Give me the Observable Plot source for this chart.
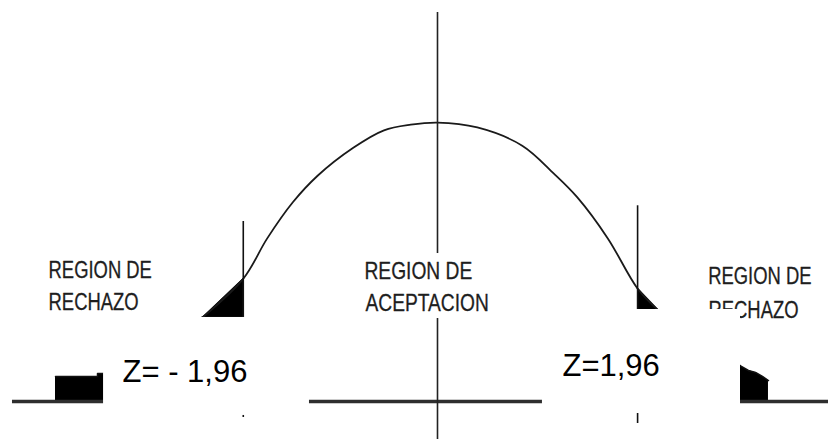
<!DOCTYPE html>
<html>
<head>
<meta charset="utf-8">
<script src="https://cdn.jsdelivr.net/npm/d3@7"></script>
<script src="https://cdn.jsdelivr.net/npm/@observablehq/plot@0.6"></script>
<style>
  html, body { margin: 0; padding: 0; background: #fff; }
  #chart svg { display: block; }
</style>
</head>
<body>
<div id="chart"></div>
<script>
// Curve (z units, density units)
const curveZ = [-3.855, -3.431, -3.431, -3.370, -2.361, -1.958, -1.72, -1.46, -1.21, -0.85, -0.54, -0.27, 0, 0.39, 0.83, 1.14, 1.37, 1.67, 1.959, 2.165, 2.977, 3.046, 3.115, 3.183, 3.242];
const curveD = [0.0358, 0.0358, 0.0401, 0.0401, 0.1216, 0.176, 0.233, 0.285, 0.323, 0.363, 0.388, 0.396, 0.399, 0.392, 0.366, 0.326, 0.292, 0.233, 0.1617, 0.130, 0.0501, 0.0443, 0.0415, 0.0358, 0.0300];

// Critical values and their marker lines
const critZ = [-1.96, 1.96];
const critTop = [0.2575, 0.280];
const critBottom = [-0.0229, -0.0315];

// Central axis line and baseline
const axisZ = [0];
const axisBottom = [-0.0544];
const axisTop = [0.5565];
const baseLeft = [-4.289];
const baseRight = [3.83];

// Region labels (left & centre anchored at their start, right column at its end)
const labelText = ["REGION DE", "RECHAZO", "REGION DE", "ACEPTACION", "REGION DE", "RECHAZO"];
const labelZ = [-3.925, -3.925, -0.737, -0.727, 3.663, 3.536];
const labelD = [0.1867, 0.1409, 0.1860, 0.1402, 0.1788, 0.1302];
const labelPlace = ["side", "side", "center", "center", "right", "right"];

// Critical value labels
const zText = ["Z= - 1,96", "Z=1,96"];
const zLabelZ = [-3.179, 1.224];
const zLabelD = [0.0415, 0.0501];

// Blank (white) patches in the picture
const centerBoxX = [-0.78, 0.57];
const centerBoxD = [0.1187, 0.2117];
const boxX1 = [-3.370, 1.028];
const boxX2 = [-1.292, 2.968];
const boxY1 = [-0.0200, -0.0172];
const boxY2 = [0.1202, 0.1316];

const curve = curveZ.map((z, i) => ({z, d: curveD[i]}));
const arc = curve.filter(p => p.z >= -2.4 && p.z <= 2.2);
const leftTail = curve.filter(p => p.z <= -1.95);
const rightTail = curve.filter(p => p.z >= 1.95);
const crit = critZ.map((z, i) => ({z, top: critTop[i], bottom: critBottom[i]}));
const labels = labelText.map((t, i) => ({t, z: labelZ[i], d: labelD[i], place: labelPlace[i]}));
const zLabels = zText.map((t, i) => ({t, z: zLabelZ[i], d: zLabelD[i]}));
const boxes = boxX1.map((x1, i) => ({x1, x2: boxX2[i], y1: boxY1[i], y2: boxY2[i]}));
const cbox = [{x1: centerBoxX[0], x2: centerBoxX[1], y1: centerBoxD[0], y2: centerBoxD[1]}];

const font = "Liberation Sans, Arial, sans-serif";
const narrowFont = "'Liberation Sans Narrow', 'Liberation Sans', Arial, sans-serif";
const labelStyle = {x: "z", y: "d", text: "t", fill: "#1e1e1e", stroke: "#1e1e1e", strokeWidth: 0.3, fontFamily: narrowFont};

const plot = Plot.plot({
  width: 828,
  height: 439,
  margin: 0,
  style: {background: "#fff"},
  x: {type: "linear", domain: [-4.41, 0, 3.83], range: [0, 437, 828], axis: null},
  y: {type: "linear", domain: [-0.0544, 0.5737], range: [439, 0], axis: null},
  marks: [
    Plot.areaY(leftTail, {x: "z", y1: 0, y2: "d", fill: "#000", curve: "linear"}),
    Plot.areaY(rightTail, {x: "z", y1: 0, y2: "d", fill: "#000", curve: "linear"}),
    Plot.line(leftTail, {x: "z", y: "d", stroke: "#111", strokeWidth: 1.5, curve: "linear"}),
    Plot.line(rightTail, {x: "z", y: "d", stroke: "#111", strokeWidth: 1.5, curve: "linear"}),
    Plot.line(arc, {x: "z", y: "d", stroke: "#1a1a1a", strokeWidth: 1.8, curve: "catmull-rom"}),
    Plot.ruleY([0], {x1: baseLeft[0], x2: baseRight[0], stroke: "#2e2e2e", strokeWidth: 3.5}),
    Plot.ruleX(axisZ, {x: d => d, y1: axisBottom[0], y2: axisTop[0], stroke: "#222", strokeWidth: 1.6}),
    Plot.ruleX(crit, {x: "z", y1: "bottom", y2: "top", stroke: "#111", strokeWidth: 1.6}),
    Plot.rect(cbox, {x1: "x1", x2: "x2", y1: "y1", y2: "y2", fill: "#fff"}),
    Plot.text(labels.filter(l => l.place === "side"), {...labelStyle, textAnchor: "start", fontSize: 23}),
    Plot.text(labels.filter(l => l.place === "center"), {...labelStyle, textAnchor: "start", fontSize: 24}),
    Plot.text(labels.filter(l => l.place === "right"), {...labelStyle, textAnchor: "end", fontSize: 23}),
    Plot.rect(boxes, {x1: "x1", x2: "x2", y1: "y1", y2: "y2", fill: "#fff"}),
    Plot.text(zLabels, {x: "z", y: "d", text: "t", textAnchor: "start", fill: "#000",
      fontFamily: font, fontSize: 31})
  ]
});

document.getElementById("chart").appendChild(plot);

// The small region labels are horizontally condensed in the reference:
// fit each to 80% of its regular-width length.
const groups = d3.select(plot).selectAll("g[aria-label='text']").nodes();
groups.slice(0, 3).forEach(g => {
  d3.select(g).selectAll("text").each(function() {
    this.style.fontFamily = "Liberation Sans, Arial, sans-serif";
    const regular = this.getComputedTextLength();
    this.style.fontFamily = "";
    this.setAttribute("textLength", (regular * 0.8).toFixed(1));
    this.setAttribute("lengthAdjust", "spacingAndGlyphs");
  });
});
</script>
</body>
</html>
